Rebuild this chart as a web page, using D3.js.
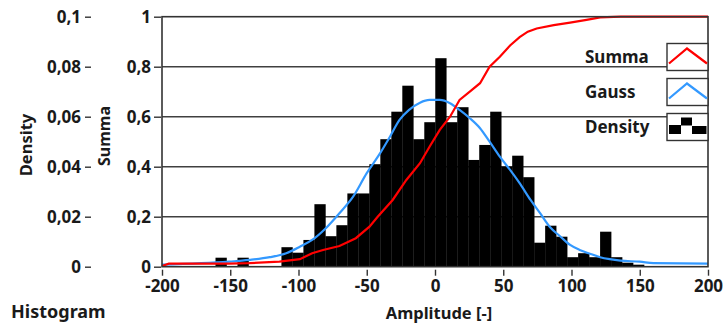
<!DOCTYPE html>
<html>
<head>
<meta charset="utf-8">
<script src="https://cdn.jsdelivr.net/npm/d3@7"></script>
<style>
  html, body { margin: 0; padding: 0; background: #fff; }
  svg text { font-family: 'Noto Sans', sans-serif; font-weight: bold; fill: #1a1a1a; }
</style>
</head>
<body>
<svg id="chart" width="723" height="327"></svg>
<script>
// histogram bins (density per bin)
const binLeft = -160.8;
const binWidth = 8.05;
const density = [
  0.0036, 0, 0.0036, 0, 0, 0, 0.0078, 0.0056, 0.0107, 0.025,
  0.0122, 0.0166, 0.0293, 0.0293, 0.041, 0.051, 0.062, 0.0724, 0.051, 0.0578,
  0.0834, 0.0578, 0.0638, 0.0427, 0.0487, 0.062, 0.04, 0.0444, 0.0358, 0.0096,
  0.0164, 0.012, 0.0038, 0.0054, 0.0038, 0.014, 0.0038, 0.0016, 0.0008
];

// gauss fit curve [amplitude, density]
const gauss = [
  [-200, 0.0008], [-151, 0.002], [-136, 0.0027], [-121, 0.0038], [-109, 0.0054],
  [-99, 0.008], [-90, 0.0107], [-80, 0.0154], [-70, 0.0214], [-60, 0.028],
  [-50, 0.0374], [-41, 0.0447], [-33, 0.052], [-26, 0.0587], [-19, 0.0627],
  [-11, 0.0656], [-4, 0.0667], [3.5, 0.0667], [11, 0.0654], [18, 0.0627],
  [25.5, 0.0594], [33, 0.0554], [40, 0.05], [47.5, 0.044], [55, 0.0387],
  [62, 0.0334], [70, 0.0267], [77, 0.0214], [84, 0.016], [92, 0.012],
  [99, 0.0087], [106, 0.0067], [114, 0.0051], [121, 0.0038], [128, 0.003],
  [136, 0.0024], [150, 0.002], [160, 0.0014], [200, 0.0012]
];

// cumulative sum [amplitude, summa]
const summa = [
  [-200, 0.003], [-195, 0.012], [-151, 0.012], [-136, 0.014], [-114, 0.02],
  [-99, 0.03], [-90, 0.054], [-82, 0.067], [-70, 0.083], [-58, 0.114],
  [-48, 0.16], [-42, 0.2], [-31, 0.267], [-21, 0.347], [-11, 0.414],
  [-4, 0.48], [3.5, 0.547], [11, 0.6], [18, 0.667], [25.5, 0.7],
  [33, 0.734], [40, 0.8], [47.5, 0.84], [55, 0.885], [62, 0.918],
  [68, 0.94], [74.5, 0.953], [87, 0.966], [99, 0.976], [111, 0.987],
  [121, 0.997], [136, 1], [200, 1]
];

const xTicks = [-200, -150, -100, -50, 0, 50, 100, 150, 200];
const summaTicks = [0, 0.2, 0.4, 0.6, 0.8, 1];
const densityTicks = [0, 0.02, 0.04, 0.06, 0.08, 0.1];
const legendItems = ['Summa', 'Gauss', 'Density'];

const plot = { left: 162, right: 708, top: 16.7, bottom: 266.7 };
const fmt = d => String(d).replace('.', ',');

const svg = d3.select('#chart');

const x = d3.scaleLinear().domain([-200, 200]).range([plot.left, plot.right]);
const y = d3.scaleLinear().domain([0, 1]).range([plot.bottom, plot.top]);
const yD = d3.scaleLinear().domain([0, 0.1]).range([plot.bottom, plot.top]);

// grid
svg.append('g')
  .selectAll('line')
  .data(summaTicks.filter(d => d > 0 && d < 1))
  .enter()
  .append('line')
  .attr('x1', plot.left).attr('x2', plot.right)
  .attr('y1', d => y(d)).attr('y2', d => y(d))
  .attr('stroke', '#404040')
  .attr('stroke-width', 1.6);

// bars
svg.append('g')
  .selectAll('rect')
  .data(density)
  .enter()
  .append('rect')
  .attr('x', (d, i) => x(binLeft + i * binWidth))
  .attr('width', x(binWidth) - x(0) + 0.3)
  .attr('y', d => yD(d))
  .attr('height', d => yD(0) - yD(d))
  .attr('fill', '#000');

const gaussLine = d3.line().x(d => x(d[0])).y(d => yD(d[1])).curve(d3.curveMonotoneX);
const summaLine = d3.line().x(d => x(d[0])).y(d => y(d[1]));

svg.append('path')
  .datum(gauss)
  .attr('d', gaussLine)
  .attr('fill', 'none')
  .attr('stroke', '#3399ff')
  .attr('stroke-width', 2.2);

svg.append('path')
  .datum(summa)
  .attr('d', summaLine)
  .attr('fill', 'none')
  .attr('stroke', '#ff0000')
  .attr('stroke-width', 2.2);

// frame
svg.append('rect')
  .attr('x', plot.left).attr('y', plot.top)
  .attr('width', plot.right - plot.left)
  .attr('height', plot.bottom - plot.top)
  .attr('fill', 'none')
  .attr('stroke', '#333')
  .attr('stroke-width', 1.6);

// axes
const xAxis = svg.append('g')
  .attr('transform', `translate(0, ${plot.bottom + 3})`)
  .call(d3.axisBottom(x).tickValues(xTicks).tickSize(6).tickPadding(4).tickFormat(d => d));

const summaAxis = svg.append('g')
  .attr('transform', `translate(${plot.left - 1}, 0)`)
  .call(d3.axisLeft(y).tickValues(summaTicks).tickSize(7).tickPadding(3).tickFormat(fmt));

const densityAxis = svg.append('g')
  .attr('transform', 'translate(91, 0)')
  .call(d3.axisLeft(yD).tickValues(densityTicks).tickSize(6).tickPadding(4).tickFormat(fmt));

[xAxis, summaAxis, densityAxis].forEach(g => {
  g.select('.domain').remove();
  g.selectAll('.tick line').attr('stroke', '#333').attr('stroke-width', 1.4);
  g.selectAll('.tick text').style('font-size', '17px').attr('fill', '#1a1a1a');
});

// axis titles
svg.append('text')
  .attr('x', x(0) + 4).attr('y', 319)
  .attr('text-anchor', 'middle')
  .style('font-size', '16.5px')
  .text('Amplitude [-]');

svg.append('text')
  .attr('x', 11).attr('y', 318)
  .style('font-size', '18px')
  .text('Histogram');

svg.append('text')
  .attr('transform', 'translate(32, 145) rotate(-90)')
  .attr('text-anchor', 'middle')
  .style('font-size', '16.5px')
  .text('Density');

svg.append('text')
  .attr('transform', 'translate(110, 136) rotate(-90)')
  .attr('text-anchor', 'middle')
  .style('font-size', '16px')
  .text('Summa');

// legend
const legend = svg.append('g');
const lg = legend.selectAll('g')
  .data(legendItems)
  .enter()
  .append('g')
  .attr('transform', (d, i) => `translate(0, ${43.5 + i * 35})`);

lg.append('text')
  .attr('x', 585).attr('y', 19.5)
  .style('font-size', '17px')
  .text(d => d);

lg.append('rect')
  .attr('x', 667).attr('y', 0)
  .attr('width', 41).attr('height', 27)
  .attr('fill', '#fff')
  .attr('stroke', '#333')
  .attr('stroke-width', 1.4);

lg.filter(d => d !== 'Density')
  .append('path')
  .attr('d', 'M669,20 L687,5 L707,20')
  .attr('fill', 'none')
  .attr('stroke', d => d === 'Summa' ? '#ff0000' : '#3399ff')
  .attr('stroke-width', 2.2);

const icon = lg.filter(d => d === 'Density');
icon.append('rect').attr('x', 669).attr('y', 11.5).attr('width', 12).attr('height', 9).attr('fill', '#000');
icon.append('rect').attr('x', 681).attr('y', 4).attr('width', 11).attr('height', 8).attr('fill', '#000');
icon.append('rect').attr('x', 692).attr('y', 12.5).attr('width', 14.5).attr('height', 8).attr('fill', '#000');
</script>
</body>
</html>
